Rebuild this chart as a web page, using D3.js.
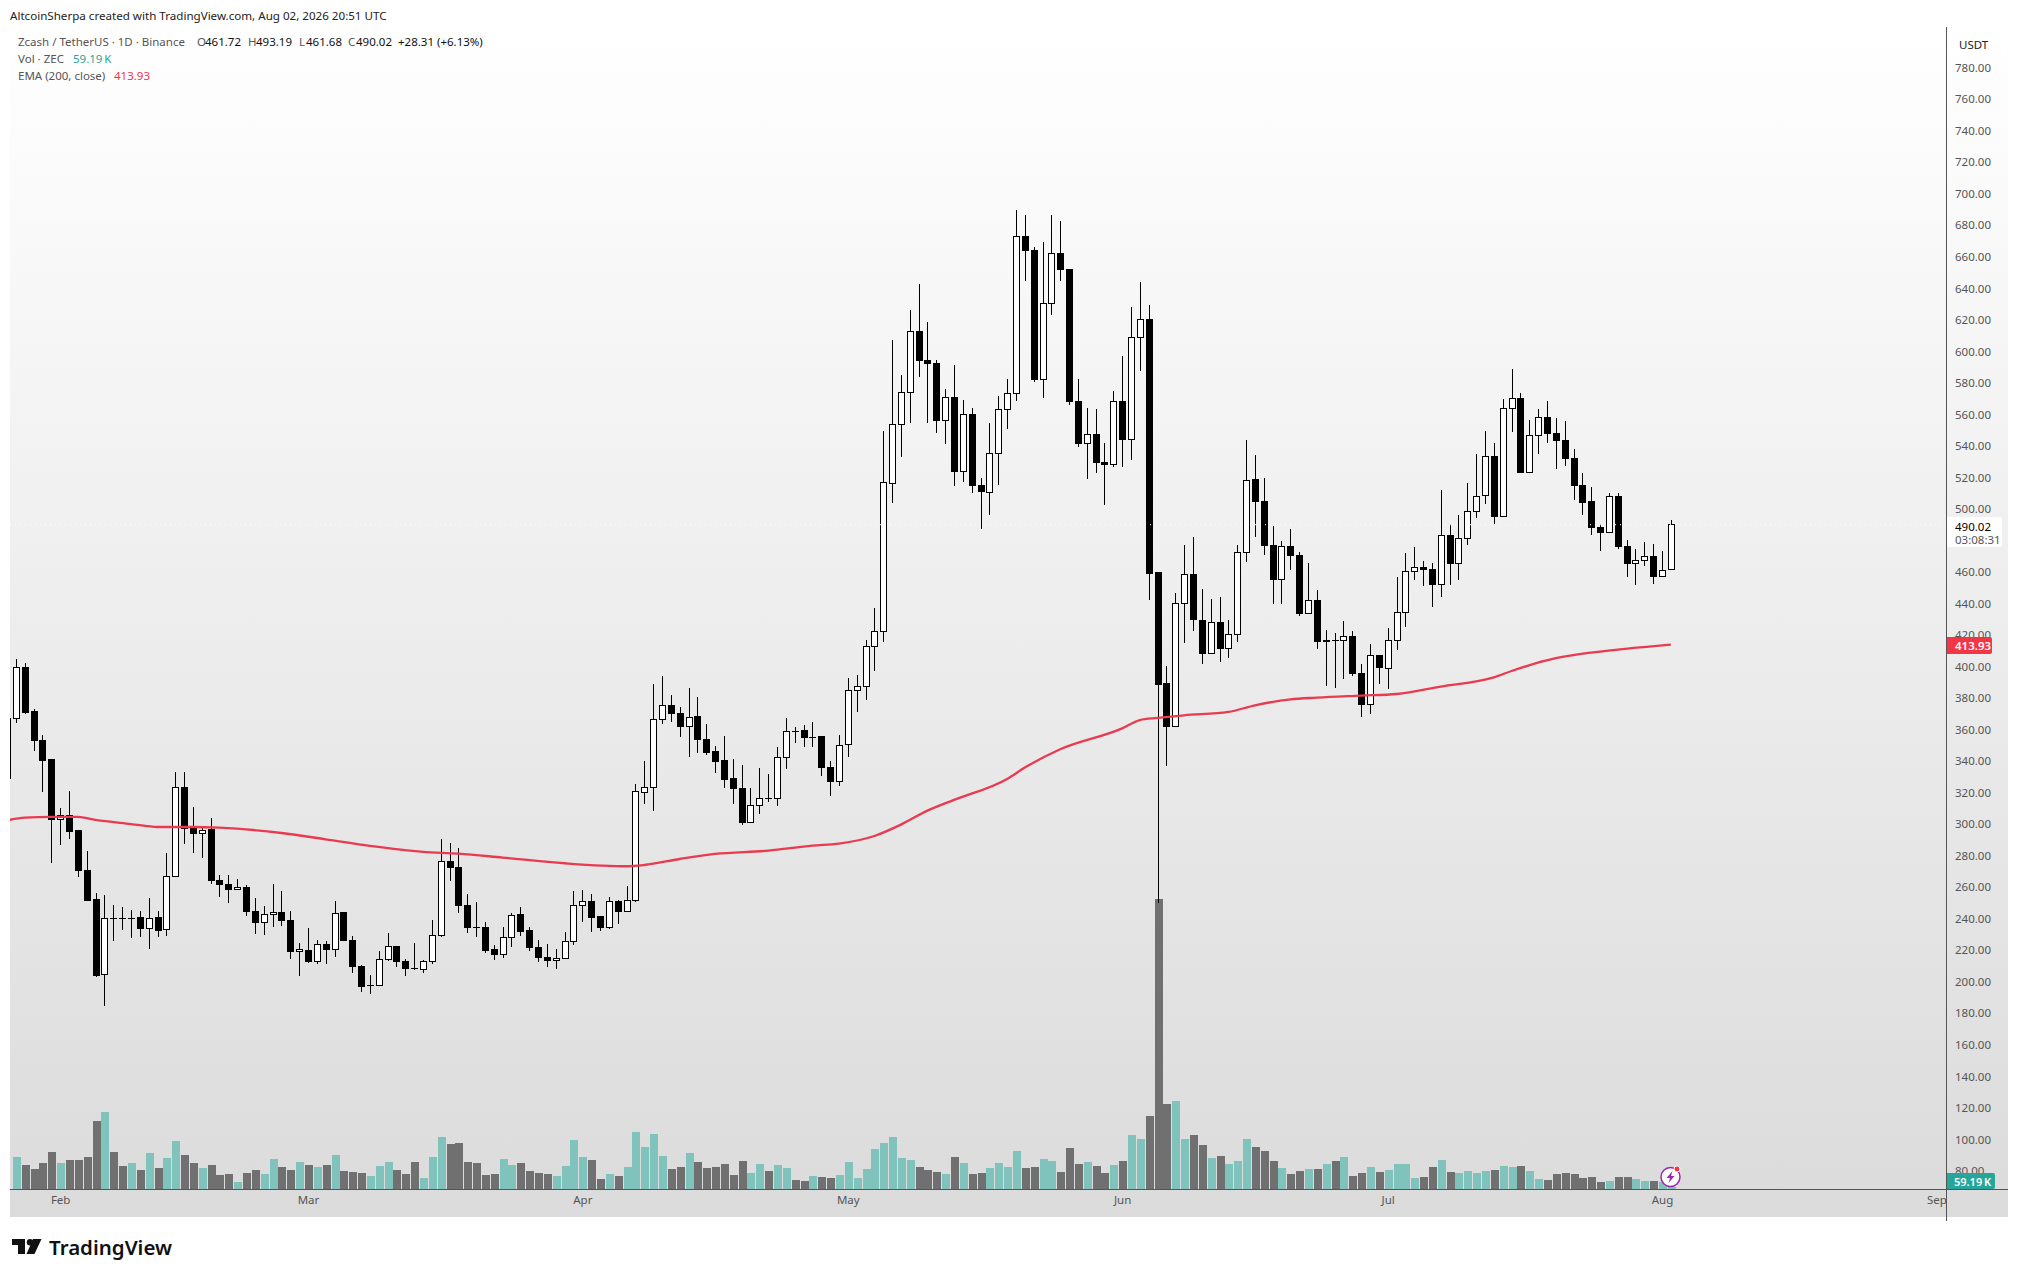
<!DOCTYPE html>
<html lang="en">
<head>
  <meta charset="UTF-8">
  <title>ZEC / USDT 1D</title>
  <script src="https://cdn.jsdelivr.net/npm/d3@7/dist/d3.min.js"></script>
  <style>
    html, body { margin: 0; padding: 0; background: #fff; }
    svg { display: block; }
    text { font-family: "Noto Sans", sans-serif; }
    .axis text { font-size: 11.5px; fill: #555; }
    .axis path, .axis line { display: none; }
  </style>
</head>
<body>
<div id="chart"></div>

<script>
  // Daily candles, first entry is the bar cut by the left edge
  var opens = [329.0,367.2,399.5,371.2,353.4,340.8,303.1,305.6,295.7,270.9,251.9,204.8,240.3,240.3,240.2,240.5,234.0,240.5,233.3,267.0,323.4,297.4,294.2,296.4,264.4,261.9,258.5,260.0,244.7,237.6,242.9,244.1,239.0,219.2,220.0,212.8,223.8,220.6,243.7,226.4,209.9,197.7,197.6,214.1,222.6,213.0,208.4,208.0,212.8,229.5,276.5,272.7,248.6,234.6,234.6,220.2,217.5,228.3,242.4,232.3,221.9,215.6,213.7,214.9,225.5,248.4,251.1,241.2,234.2,251.1,244.7,251.5,320.3,323.2,366.6,375.5,370.4,361.9,368.1,353.9,345.9,340.1,328.7,322.8,301.0,311.8,316.5,316.5,342.5,359.0,359.2,355.1,355.4,336.1,327.0,350.5,385.0,387.5,412.9,422.2,516.1,553.5,574.1,612.8,594.4,592.4,556.3,570.9,523.9,560.1,515.1,510.6,535.4,563.3,573.4,673.0,664.2,582.3,630.5,662.3,652.1,568.4,541.7,547.4,529.6,528.2,568.4,544.2,609.0,620.5,459.4,389.3,361.9,440.1,458.5,429.5,408.4,428.1,411.3,420.4,472.5,518.4,504.8,476.9,455.3,476.5,470.6,433.8,442.0,415.8,416.7,416.6,419.2,395.7,376.0,407.1,398.9,416.6,434.4,460.4,463.0,461.9,452.0,483.3,465.5,481.4,498.5,508.7,533.4,495.4,563.9,570.2,523.3,546.8,558.2,548.0,543.6,532.2,515.0,504.9,488.4,485.2,508.1,476.3,465.5,467.4,470.0,457.1,461.72];
  var highs = [367.2,404.6,402.1,372.9,356.4,340.8,310.1,321.1,295.9,283.0,256.2,255.1,248.8,247.7,245.6,245.0,253.0,245.0,281.6,333.0,333.0,311.0,298.1,303.8,267.6,267.6,265.1,261.3,253.0,248.1,261.9,257.7,244.7,224.5,234.2,226.6,226.1,251.3,244.1,229.3,210.5,204.4,219.6,231.0,222.8,214.3,224.5,213.9,239.0,290.6,287.9,284.7,255.5,250.5,237.8,223.4,234.6,243.5,247.3,234.6,226.4,223.8,220.9,231.4,257.7,258.3,255.5,241.4,253.6,251.9,260.8,325.3,339.9,388.8,394.1,382.0,374.2,386.3,380.5,363.4,349.7,356.0,341.4,337.6,323.0,335.7,331.9,349.0,367.4,361.9,363.0,364.9,355.4,339.9,356.6,392.6,394.7,416.9,437.0,549.5,607.3,585.1,626.3,642.8,618.7,594.4,576.0,591.4,569.2,563.9,519.5,554.4,571.7,582.3,689.8,686.6,666.1,669.5,686.6,682.8,652.1,582.3,563.9,563.3,541.9,574.7,597.1,628.0,643.9,629.3,459.4,400.4,446.5,477.1,482.0,449.0,442.6,443.9,429.5,477.1,543.7,534.2,519.4,489.2,479.7,487.1,472.5,465.7,448.4,423.2,421.1,428.9,422.6,401.4,414.1,407.1,424.2,456.6,471.8,475.9,467.0,465.5,511.9,490.5,496.2,516.5,534.9,549.5,541.7,569.6,588.8,573.4,556.5,563.3,568.3,557.5,555.9,538.1,522.6,513.8,490.5,510.0,510.0,480.1,474.4,479.1,477.6,473.4,493.19];
  var lows = [329.0,364.4,370.1,346.7,320.6,275.2,286.8,290.6,266.7,251.5,203.3,184.7,226.1,232.9,227.8,228.3,220.9,228.7,229.3,267.0,287.5,281.6,278.8,262.3,253.9,250.3,258.5,241.8,230.3,229.7,235.0,235.5,214.5,203.9,212.2,211.3,211.3,215.8,226.1,205.8,193.8,192.3,197.6,213.5,209.4,203.9,207.5,205.6,211.3,228.1,264.2,243.9,231.2,228.3,218.5,214.1,215.4,222.1,229.3,219.8,212.8,209.6,208.4,214.9,223.6,238.2,231.9,232.5,233.5,236.7,244.7,250.9,313.1,308.6,363.6,364.9,355.6,342.9,345.2,344.0,332.7,323.2,312.9,299.5,301.0,306.5,314.3,311.6,335.1,351.8,349.0,349.0,330.6,318.1,324.3,342.9,371.4,379.1,397.5,415.6,504.1,533.2,554.8,584.0,554.8,548.5,541.5,514.8,517.4,510.4,487.1,496.4,515.5,551.0,568.8,644.9,580.8,570.7,623.3,644.9,566.2,539.6,518.9,523.1,502.8,526.9,526.9,531.3,587.8,442.2,250.2,336.9,361.9,415.2,422.8,401.6,408.4,402.9,405.4,415.8,466.3,482.2,470.8,439.7,439.7,461.3,432.1,433.8,411.3,387.9,386.6,392.3,394.2,368.2,370.1,389.1,385.8,410.7,425.3,454.9,451.3,438.0,444.4,452.0,455.2,477.2,494.3,503.2,490.7,495.4,549.1,523.1,523.3,535.1,542.1,525.6,527.5,505.9,496.4,483.7,473.6,485.2,474.4,457.1,452.0,464.1,452.6,457.1,461.68];
  var closes = [367.2,399.5,370.8,353.0,340.3,303.1,305.6,295.3,270.5,251.5,204.3,240.3,240.2,240.2,240.3,233.8,240.3,232.5,267.0,323.4,297.2,294.0,296.2,264.0,261.5,258.5,260.0,244.5,237.6,242.9,244.1,238.6,219.2,220.4,212.6,223.8,220.4,243.5,226.1,209.6,197.0,197.8,214.3,222.6,212.8,208.4,208.3,213.0,229.5,276.5,272.4,248.4,234.4,234.5,219.8,217.1,228.3,242.2,231.9,221.5,215.4,213.4,214.7,225.7,248.4,250.9,240.7,234.2,250.9,244.5,251.7,320.7,323.2,366.6,375.5,370.2,361.9,367.9,353.7,345.4,339.7,328.3,322.6,301.0,312.0,316.5,316.4,342.5,359.0,358.9,355.0,355.2,335.9,327.0,350.1,385.0,387.5,412.9,422.2,517.0,553.8,574.1,612.8,594.2,592.2,556.1,570.9,523.7,560.1,514.8,511.0,535.4,563.3,573.4,673.0,664.0,581.9,630.5,662.3,651.9,568.1,541.5,547.4,529.4,528.2,568.4,544.2,609.0,620.4,458.9,388.9,361.9,440.1,458.5,429.7,408.2,428.1,411.3,420.4,472.5,518.2,504.6,476.7,455.1,476.3,470.4,433.6,442.0,415.8,416.8,416.5,419.0,395.5,375.8,406.9,399.3,416.6,434.4,460.4,463.0,461.5,452.0,483.3,465.3,481.4,498.5,508.1,533.4,495.1,563.7,570.2,523.1,546.8,558.2,547.8,543.4,532.0,514.8,504.0,488.2,485.2,508.1,475.9,465.3,467.4,470.0,457.1,461.1,490.02];
  // Volume in thousands of ZEC, same bars as the candles
  var volumes = [0,1130,850,710,920,1305,920,1025,1025,1130,2390,2705,1305,815,920,675,1270,745,1095,1690,1200,920,745,850,500,535,255,570,675,535,1060,780,675,955,850,780,850,1200,640,605,570,465,815,955,675,535,955,395,1130,1830,1585,1620,955,920,500,535,1060,850,920,640,570,535,465,815,1725,1130,1025,360,535,465,780,2005,1480,1935,1165,710,780,1270,955,745,780,885,500,990,570,885,640,850,745,325,290,465,430,395,500,955,395,710,1410,1620,1830,1095,1025,780,675,605,535,1130,920,535,570,745,920,780,1340,745,780,1060,990,605,1445,885,955,815,570,850,990,1900,1760,2565,10150,2985,3090,1760,1900,1550,1095,1165,885,990,1760,1480,1340,990,745,535,640,710,710,885,990,1130,465,570,780,605,675,885,885,395,430,780,1025,605,570,640,570,640,675,815,780,815,640,360,325,535,570,535,395,430,255,290,430,430,360,290,290,255,59.19];
  // EMA 200 read at these bar numbers
  var emaBars = [0,2,5,8,10,14,17,21,24,31,36,41,47,51,56,63,70,72,76,80,86,91,94,98,101,104,107,113,115,119,126,128,130,133,138,141,145,148,153,157,162,168,170,175,179,182,188];
  var emaValues = [302.4,304.2,304.6,304.6,302.7,300.1,298.2,298.2,297.8,294.4,290.4,286.2,282.4,281.3,278.8,275.2,273.3,274.1,277.9,281.1,283.2,286.4,287.7,292.5,299.7,308.6,315.4,328.7,335.9,347.5,360.8,366.1,367.4,369.1,371.2,375.4,379.2,380.3,381.6,382.6,387.3,393.2,397.2,405.3,408.9,410.8,413.93];
  var priceTicks = [80,100,120,140,160,180,200,220,240,260,280,300,320,340,360,380,400,420,440,460,480,500,520,540,560,580,600,620,640,660,680,700,720,740,760,780];

  var width = 2018, height = 1277;
  var paneLeft = 10, paneRight = 1946, axisRight = 2008;
  var paneTop = 27, volBase = 1189, paneBottom = 1217;

  var firstDay = new Date(Date.UTC(2026, 0, 26));
  var days = opens.map(function(d, i) { return d3.utcDay.offset(firstDay, i); });

  var x = d3.scaleUtc()
    .domain([firstDay, new Date(Date.UTC(2026, 8, 1))])
    .range([7.05, 1936.35]);
  var y = d3.scaleLinear().domain([80, 780]).range([1170.9, 67.7]);
  var yVol = d3.scaleLinear().domain([0, 10150]).range([volBase, 899]);

  var svg = d3.select("#chart").append("svg")
    .attr("width", width)
    .attr("height", height);

  var defs = svg.append("defs");
  var grad = defs.append("linearGradient")
    .attr("id", "bg").attr("x1", 0).attr("x2", 0).attr("y1", 0).attr("y2", 1);
  grad.append("stop").attr("offset", 0).attr("stop-color", "#ffffff");
  grad.append("stop").attr("offset", 1).attr("stop-color", "#dbdbdb");
  defs.append("clipPath").attr("id", "pane").append("rect")
    .attr("x", paneLeft).attr("y", paneTop)
    .attr("width", paneRight - paneLeft).attr("height", volBase - paneTop);

  svg.append("rect")
    .attr("x", paneLeft).attr("y", paneTop)
    .attr("width", axisRight - paneLeft).attr("height", paneBottom - paneTop)
    .attr("fill", "url(#bg)");

  var plot = svg.append("g").attr("clip-path", "url(#pane)");

  // volume
  plot.append("g").selectAll("rect")
    .data(volumes)
    .enter().append("rect")
    .attr("x", function(d, i) { return Math.round(x(days[i])) - 3.5; })
    .attr("width", 8)
    .attr("y", function(d) { return yVol(d); })
    .attr("height", function(d) { return volBase - yVol(d); })
    .attr("fill", function(d, i) { return closes[i] >= opens[i] ? "#80c3bc" : "#707070"; })
    .attr("shape-rendering", "crispEdges");

  // candles
  var candle = plot.append("g").attr("shape-rendering", "crispEdges")
    .selectAll("g")
    .data(opens)
    .enter().append("g");

  candle.append("line")
    .attr("x1", function(d, i) { return Math.round(x(days[i])) + 0.5; })
    .attr("x2", function(d, i) { return Math.round(x(days[i])) + 0.5; })
    .attr("y1", function(d, i) { return y(highs[i]); })
    .attr("y2", function(d, i) { return y(lows[i]); })
    .attr("stroke", "#000")
    .attr("stroke-width", 1);

  candle.append("rect")
    .attr("x", function(d, i) { return Math.round(x(days[i])) - 2.5; })
    .attr("width", 6)
    .attr("y", function(d, i) { return y(Math.max(opens[i], closes[i])); })
    .attr("height", function(d, i) { return Math.abs(y(opens[i]) - y(closes[i])); })
    .attr("fill", function(d, i) { return closes[i] >= opens[i] ? "#fff" : "#000"; })
    .attr("stroke", "#000")
    .attr("stroke-width", 1);

  // EMA
  var emaLine = d3.line()
    .x(function(d, i) { return x(d3.utcDay.offset(firstDay, d)); })
    .y(function(d, i) { return y(emaValues[i]); })
    .curve(d3.curveMonotoneX);

  plot.append("path")
    .attr("d", emaLine(emaBars))
    .attr("fill", "none")
    .attr("stroke", "#ea3a50")
    .attr("stroke-width", 2.3);

  // last price dotted line
  plot.append("line")
    .attr("x1", paneLeft).attr("x2", paneRight)
    .attr("y1", y(490.02)).attr("y2", y(490.02))
    .attr("stroke", "#fff")
    .attr("stroke-dasharray", "1 4");

  // axes
  svg.append("g")
    .attr("class", "axis")
    .attr("transform", "translate(" + (paneRight + 6) + ",0)")
    .call(d3.axisRight(y).tickValues(priceTicks).tickSize(0).tickPadding(3).tickFormat(d3.format(".2f")));

  svg.append("g")
    .attr("class", "axis")
    .attr("transform", "translate(0," + (volBase + 4) + ")")
    .call(d3.axisBottom(x).ticks(d3.utcMonth.every(1)).tickSize(0).tickPadding(3).tickFormat(d3.utcFormat("%b")));

  svg.append("line").attr("x1", paneLeft).attr("x2", axisRight)
    .attr("y1", volBase + 0.5).attr("y2", volBase + 0.5)
    .attr("stroke", "#555");
  svg.append("line").attr("x1", paneRight + 0.5).attr("x2", paneRight + 0.5)
    .attr("y1", paneTop).attr("y2", paneBottom + 4)
    .attr("stroke", "#555");

  // price tags on the axis
  function tag(x0, y0, w, h, fill) {
    svg.append("path")
      .attr("d", "M" + x0 + " " + y0 + "H" + (x0 + w - 2) + "q2 0 2 2V" + (y0 + h - 2) + "q0 2 -2 2H" + x0 + "Z")
      .attr("fill", fill);
  }
  function label(x0, y0, s, size, fill, weight) {
    svg.append("text")
      .attr("x", x0).attr("y", y0)
      .attr("dominant-baseline", "central")
      .attr("font-size", size)
      .attr("font-weight", weight || 400)
      .attr("fill", fill)
      .text(s);
  }

  svg.append("rect").attr("x", 1950).attr("y", 32).attr("width", 53).attr("height", 24).attr("rx", 3).attr("fill", "#fff");
  label(1959, 44.5, "USDT", 11.5, "#222");

  tag(paneRight + 1, 517, 55, 30, "#fff");
  label(1955, 526, "490.02", 11.5, "#000");
  label(1955, 539, "03:08:31", 11.5, "#555");

  tag(paneRight + 1, 637, 45, 17, "#f23645");
  label(1955, 645.5, "413.93", 11.5, "#fff", 600);

  tag(paneRight + 1, 1173, 48, 16, "#26a69a");
  label(1954, 1181, "59.19\u2009K", 11, "#fff", 600);

  // header + legend
  label(10, 15, "AltcoinSherpa created with TradingView.com, Aug 02, 2026 20:51 UTC", 11.6, "#222");
  label(18, 41, "Zcash / TetherUS · 1D · Binance", 11.5, "#555");
  label(197, 41, "O", 11.5, "#555");
  label(205, 41, "461.72", 11.5, "#111");
  label(248, 41, "H", 11.5, "#555");
  label(256, 41, "493.19", 11.5, "#111");
  label(299, 41, "L", 11.5, "#555");
  label(306, 41, "461.68", 11.5, "#111");
  label(348, 41, "C", 11.5, "#555");
  label(356, 41, "490.02", 11.5, "#111");
  label(398, 41, "+28.31 (+6.13%)", 11.5, "#111");
  label(18, 58, "Vol · ZEC", 11.5, "#555");
  label(73, 58, "59.19\u2009K", 11.5, "#26a69a");
  label(18, 75, "EMA (200, close)", 11.5, "#555");
  label(114, 75, "413.93", 11.5, "#f23645");

  // bolt badge
  svg.append("circle").attr("cx", 1670.5).attr("cy", 1177).attr("r", 9.5)
    .attr("fill", "#fff").attr("stroke", "#9c27b0").attr("stroke-width", 1.5);
  svg.append("path").attr("d", "M1672.5 1171 L1666.5 1178 H1670 L1668.5 1183 L1674.5 1176 H1671 Z").attr("fill", "#9c27b0");
  svg.append("circle").attr("cx", 1677).attr("cy", 1169).attr("r", 3).attr("fill", "#f23645").attr("stroke", "#fff");

  // logo
  svg.append("path").attr("d", "M12 1239H25V1254H18V1245H12Z").attr("fill", "#111");
  svg.append("circle").attr("cx", 30).attr("cy", 1242.2).attr("r", 3.2).attr("fill", "#111");
  svg.append("path").attr("d", "M33 1239H41.5L34.5 1254H26.5Z").attr("fill", "#111");
  label(49, 1247, "TradingView", 20.5, "#111", 600);
</script>

</body>
</html>
